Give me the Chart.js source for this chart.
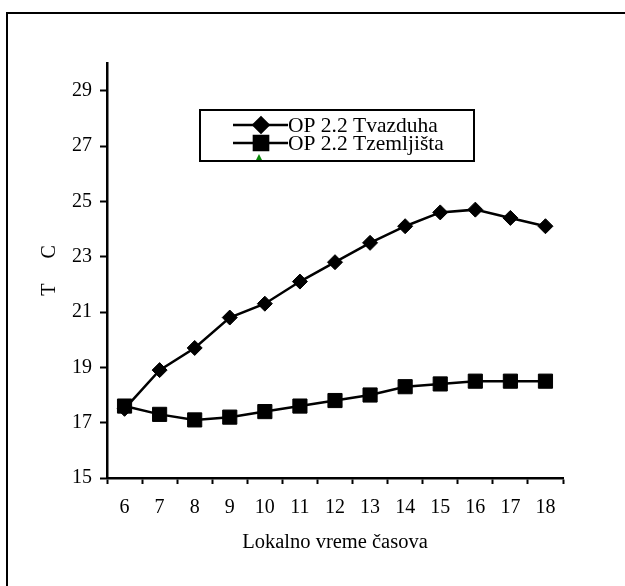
<!DOCTYPE html>
<html>
<head>
<meta charset="utf-8">
<script src="https://cdn.jsdelivr.net/npm/chart.js@4/dist/chart.umd.min.js"></script>
<style>
  html, body { margin: 0; padding: 0; background: #fff; }
  canvas { display: block; }
</style>
</head>
<body>
<canvas id="tempChart" width="625" height="586"></canvas>
<script>
const hours = ['6', '7', '8', '9', '10', '11', '12', '13', '14', '15', '16', '17', '18']
const airTemp = [17.5, 18.9, 19.7, 20.8, 21.3, 22.1, 22.8, 23.5, 24.1, 24.6, 24.7, 24.4, 24.1]
const groundTemp = [17.6, 17.3, 17.1, 17.2, 17.4, 17.6, 17.8, 18.0, 18.3, 18.4, 18.5, 18.5, 18.5]
const yTicks = [15, 17, 19, 21, 23, 25, 27, 29]

const serif = '"Liberation Serif", "Times New Roman", serif'
Chart.defaults.font.family = serif
Chart.defaults.font.size = 20
Chart.defaults.color = '#000'

// outer frame + hand drawn legend (line through marker, like the original)
const framePlugin = {
  id: 'frame',
  beforeDraw(chart) {
    const ctx = chart.ctx
    ctx.save()
    ctx.fillStyle = '#fff'
    ctx.fillRect(0, 0, chart.width, chart.height)
    ctx.strokeStyle = '#000'
    ctx.lineWidth = 2
    ctx.strokeRect(7, 13, 700, 700)
    ctx.restore()
  },
  afterDraw(chart) {
    const ctx = chart.ctx
    ctx.save()
    ctx.strokeStyle = '#000'
    ctx.lineWidth = 2
    ctx.strokeRect(200, 110, 274, 51)
    chart.data.datasets.forEach((ds, i) => {
      const y = 125 + i * 18
      ctx.beginPath()
      ctx.moveTo(233, y)
      ctx.lineTo(288, y)
      ctx.strokeStyle = '#000'
      ctx.lineWidth = 2.5
      ctx.stroke()
      ctx.fillStyle = '#000'
      Chart.helpers.drawPoint(ctx, {
        pointStyle: ds.pointStyle,
        radius: ds.pointRadius,
        borderWidth: 1
      }, 261, y)
      ctx.fillStyle = '#000'
      ctx.font = '21.5px ' + serif
      ctx.textBaseline = 'middle'
      ctx.textAlign = 'left'
      ctx.fillText(ds.label, 288, y + 1)
    })
    // small green mark under the legend markers
    ctx.beginPath()
    ctx.moveTo(256, 160)
    ctx.lineTo(262, 160)
    ctx.lineTo(259, 154)
    ctx.closePath()
    ctx.fillStyle = '#0a8a0a'
    ctx.fill()
    ctx.restore()
  }
}

new Chart(document.getElementById('tempChart'), {
  type: 'line',
  data: {
    labels: hours,
    datasets: [
      {
        label: 'OP 2.2 Tvazduha',
        data: airTemp,
        borderColor: '#000',
        backgroundColor: '#000',
        borderWidth: 2.5,
        pointStyle: 'rectRot',
        pointRadius: 7.5,
        pointBorderWidth: 1,
        tension: 0
      },
      {
        label: 'OP 2.2 Tzemljišta',
        data: groundTemp,
        borderColor: '#000',
        backgroundColor: '#000',
        borderWidth: 2.5,
        pointStyle: 'rect',
        pointRadius: 10,
        pointBorderWidth: 1,
        tension: 0
      }
    ]
  },
  options: {
    responsive: false,
    animation: false,
    devicePixelRatio: 1,
    layout: { padding: { top: 63, right: 62, bottom: 0, left: 0 } },
    plugins: {
      legend: { display: false },
      tooltip: { enabled: false }
    },
    scales: {
      x: {
        offset: true,
        grid: {
          offset: true,
          drawOnChartArea: false,
          drawTicks: true,
          tickLength: 6,
          tickWidth: 2,
          tickColor: '#000'
        },
        border: { display: true, color: '#000', width: 2.5 },
        ticks: { padding: 12, maxRotation: 0, autoSkip: false },
        title: {
          display: true,
          text: 'Lokalno vreme časova',
          font: { size: 20.5 },
          padding: { top: 0, bottom: 31 }
        },
        afterFit(scale) { scale.height = 108 }
      },
      y: {
        min: 15,
        max: 30,
        afterBuildTicks(scale) {
          scale.ticks = yTicks.map(v => ({ value: v }))
        },
        grid: {
          drawOnChartArea: false,
          drawTicks: true,
          tickLength: 7,
          tickWidth: 2,
          tickColor: '#000'
        },
        border: { display: true, color: '#000', width: 2.5 },
        ticks: { padding: 8 },
        title: {
          display: true,
          text: 'T     C',
          padding: { top: 38, bottom: 0 }
        },
        afterFit(scale) { scale.width = 107 }
      }
    }
  },
  plugins: [framePlugin]
})
</script>
</body>
</html>
